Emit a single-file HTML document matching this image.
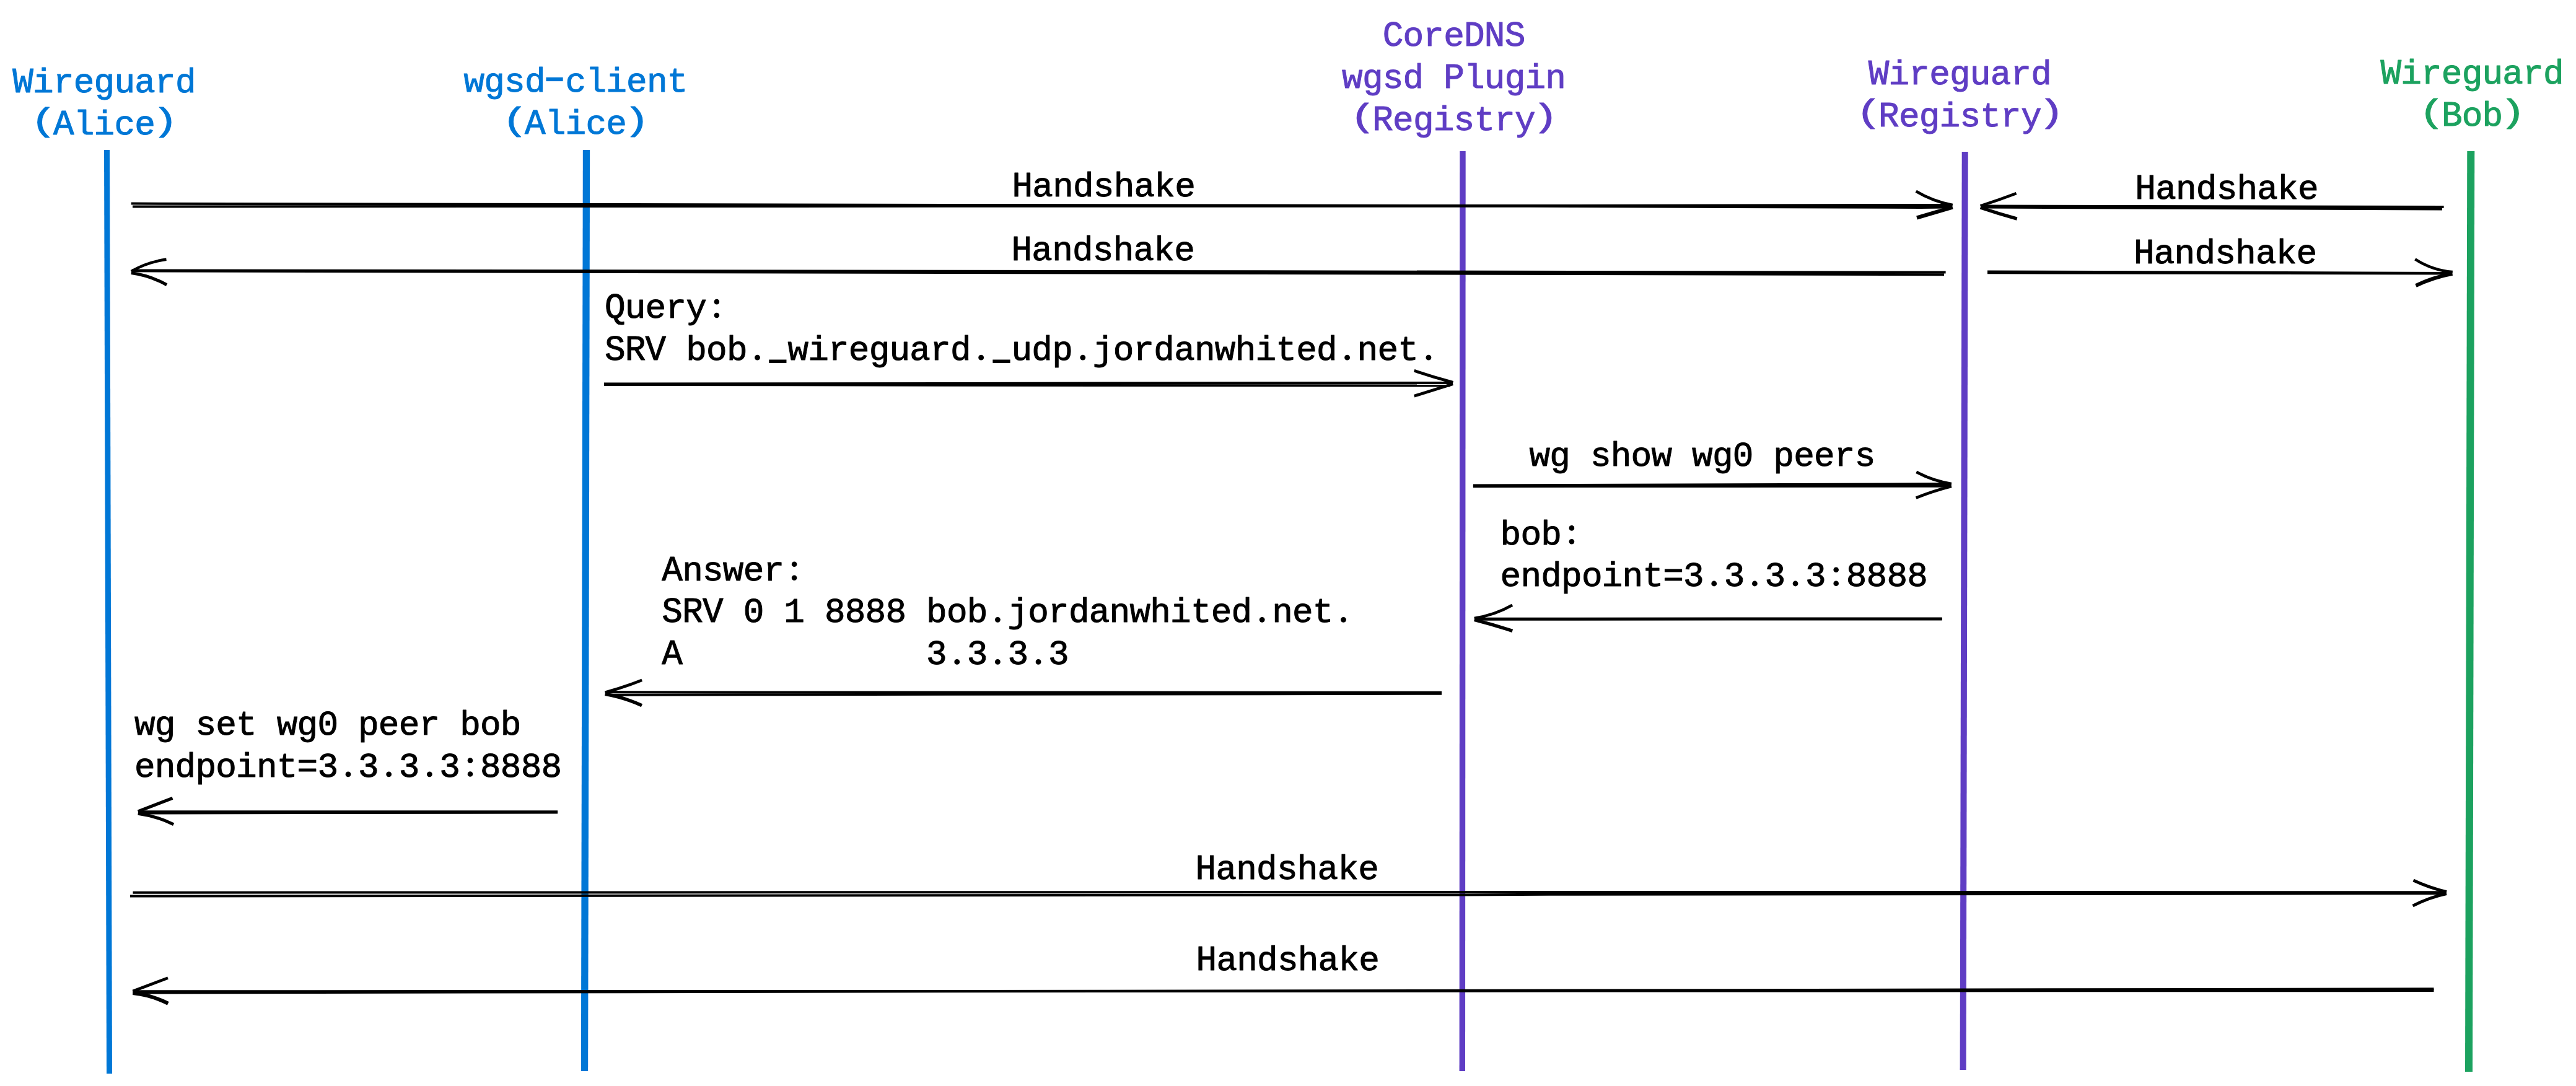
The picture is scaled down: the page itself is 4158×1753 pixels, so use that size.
<!DOCTYPE html>
<html><head><meta charset="utf-8"><style>
html,body{margin:0;padding:0;background:#fff;}
svg{display:block;}
text{font-family:"Liberation Mono",monospace;font-size:56px;white-space:pre;stroke-width:1px;paint-order:stroke;stroke-linejoin:round;}
</style></head><body>
<svg width="4158" height="1753" viewBox="0 0 4158 1753">
<rect width="4158" height="1753" fill="#fff"/>
<g stroke-linecap="butt" stroke-linejoin="round">
<path d="M172.5 242L176.5 1733" stroke="#0077d6" stroke-width="9" fill="none"/>
<path d="M946.5 242L943.5 1729" stroke="#0077d6" stroke-width="11.3" fill="none"/>
<path d="M2361 244L2360.3 1729" stroke="#5f3dc4" stroke-width="9.4" fill="none"/>
<path d="M3171.7 245L3168.6 1727" stroke="#5f3dc4" stroke-width="10" fill="none"/>
<path d="M3988.3 244L3985 1730" stroke="#1ca25f" stroke-width="12" fill="none"/>
</g>
<g stroke="#000" stroke-width="4" fill="none" stroke-linecap="butt" stroke-linejoin="round">
<path d="M211.8 328.6L500 329.2L1570 331.1L2470 332.1L3100 330.9L3151 331"/>
<path d="M214 333.6L500 333.2L1570 332.8L2470 332.8L3100 334.9L3148 334.6"/>
<path d="M3140.6 439.5L213 436.5"/>
<path d="M3138 443.2L213 437.3"/>
<path d="M3944.6 334L3197 332.5"/>
<path d="M3942 337.6L3197 334.5"/>
<path d="M3208 438.5L3958 440.9"/>
<path d="M3208 440.3L3955 441.5"/>
<path d="M975 619.6L2345 617.9"/>
<path d="M975 621L2340.7 622.6"/>
<path d="M2377.9 783.4L3149.5 781.1"/>
<path d="M2377.9 785.2L3149.5 784.7"/>
<path d="M3134.7 998.4L2380 998.8"/>
<path d="M3134.7 999.4L2380 999.8"/>
<path d="M2327 1117.8L1205 1117.4L977 1117.1"/>
<path d="M2327 1119.8L1205 1121.3L980 1121.8"/>
<path d="M900.1 1310.2L223 1310.2"/>
<path d="M900.1 1311.4L223 1312.6"/>
<path d="M214.5 1440.7L2360 1440L3949 1440.2"/>
<path d="M209.9 1446.5L2360 1444.4L2500 1443.8L3949 1442.2"/>
<path d="M3928.5 1596.3L214.5 1602.5"/>
<path d="M3928.5 1599.1L214.5 1600.3"/>
<path d="M3092.7 308.8Q3120.21 325.33 3151.8 331" stroke-width="4.5"/>
<path d="M3094 351.5Q3122.9 343 3151.8 334.5" stroke-width="6"/>
<path d="M268.5 418.8Q238.23 422.72 211.8 438" stroke-width="4.5"/>
<path d="M269.1 459.7Q242.22 444.84 211.8 440.6" stroke-width="5"/>
<path d="M3254.6 312.2Q3225.93 323.19 3196.6 332.3" stroke-width="4.5"/>
<path d="M3255.7 353.1Q3225.86 345.01 3196.6 335" stroke-width="5.5"/>
<path d="M3898.3 418.3Q3925.96 436.22 3958.8 439" stroke-width="4.5"/>
<path d="M3899.5 461Q3927.76 447.6 3958.5 441.8" stroke-width="6"/>
<path d="M2282.7 598.3Q2313.76 608.76 2345.4 617.3" stroke-width="4.7"/>
<path d="M2282.7 639.2Q2313.95 629.5 2345.2 619.8" stroke-width="4.7"/>
<path d="M3093.3 761.9Q3120 776.19 3149.9 781" stroke-width="4.7"/>
<path d="M3092.7 803.6Q3120.68 792.4 3149.9 785" stroke-width="4.7"/>
<path d="M2441.1 976.8Q2412.36 993.07 2379.7 998" stroke-width="4.7"/>
<path d="M2441.3 1018.3Q2410.78 1008.34 2379.7 1000.3" stroke-width="5.5"/>
<path d="M1036.2 1097.9Q1006.91 1109.37 976.6 1117.8" stroke-width="4.7"/>
<path d="M1036 1138.8Q1007.49 1125.73 976.6 1120.3" stroke-width="5.5"/>
<path d="M278.5 1288.3Q250.6 1299.05 222.7 1309.8" stroke-width="5"/>
<path d="M280.2 1330.8Q252.91 1317.22 222.7 1313.2" stroke-width="5"/>
<path d="M3895.5 1421Q3921.32 1433.13 3949.1 1439.6" stroke-width="4.7"/>
<path d="M3894.6 1462.2Q3920.5 1448.64 3949.1 1442.6" stroke-width="4.7"/>
<path d="M271 1578.6Q242.7 1589.3 214.4 1600" stroke-width="4.7"/>
<path d="M271.3 1619.7Q244.37 1606.17 214.4 1603" stroke-width="6"/>
</g>
<g>
<text fill="#0077d6" stroke="#0077d6"><tspan x="53.11 85.94 118.77 151.6 184.43 217.26 250.09 282.92" y="148.9">ireguard</tspan></text>
<text fill="#0077d6" stroke="#0077d6"><tspan x="118.77 151.6 184.43 217.26" y="217">lice</tspan></text>
<text fill="#0077d6" stroke="#0077d6"><tspan x="748.45 781.28 814.11 846.94 912.6 945.43 978.26 1011.09 1043.92 1076.75" y="147.9">wgsdclient</tspan></text>
<text fill="#0077d6" stroke="#0077d6"><tspan x="879.77 912.6 945.43 978.26" y="215.9">lice</tspan></text>
<text fill="#5f3dc4" stroke="#5f3dc4"><tspan x="2264.54 2297.37 2330.2" y="74.1">ore</tspan></text>
<text fill="#5f3dc4" stroke="#5f3dc4"><tspan x="2166.05 2198.88 2231.71 2264.54 2363.03 2395.86 2428.69 2461.52 2494.35" y="141.8">wgsdlugin</tspan></text>
<text fill="#5f3dc4" stroke="#5f3dc4"><tspan x="2248.12 2280.95 2313.78 2346.61 2379.44 2412.27 2445.1" y="209.9">egistry</tspan></text>
<text fill="#5f3dc4" stroke="#5f3dc4"><tspan x="3048.51 3081.34 3114.17 3147 3179.83 3212.66 3245.49 3278.32" y="136">ireguard</tspan></text>
<text fill="#5f3dc4" stroke="#5f3dc4"><tspan x="3064.92 3097.75 3130.58 3163.41 3196.24 3229.07 3261.9" y="203.5">egistry</tspan></text>
<text fill="#1ca25f" stroke="#1ca25f"><tspan x="3875.21 3908.04 3940.87 3973.7 4006.53 4039.36 4072.19 4105.02" y="134.5">ireguard</tspan></text>
<text fill="#1ca25f" stroke="#1ca25f"><tspan x="3973.7 4006.53" y="202.9">ob</tspan></text>
<text fill="#000000" stroke="#000000"><tspan x="1666.34 1699.17 1732 1764.83 1797.66 1830.49 1863.32 1896.15" y="317.2">andshake</tspan></text>
<text fill="#000000" stroke="#000000"><tspan x="1665.34 1698.17 1731 1763.83 1796.66 1829.49 1862.32 1895.15" y="419.8">andshake</tspan></text>
<text fill="#000000" stroke="#000000"><tspan x="3479.14 3511.97 3544.8 3577.63 3610.46 3643.29 3676.12 3708.95" y="320.9">andshake</tspan></text>
<text fill="#000000" stroke="#000000"><tspan x="3476.74 3509.57 3542.4 3575.23 3608.06 3640.89 3673.72 3706.55" y="424.6">andshake</tspan></text>
<text fill="#000000" stroke="#000000"><tspan x="1008.74 1041.57 1074.4 1107.23" y="513.2">uery</tspan></text>
<text fill="#000000" stroke="#000000"><tspan x="1107.23 1140.06 1172.89 1271.38 1304.21 1337.04 1369.87 1402.7 1435.53 1468.36 1501.19 1534.02 1632.51 1665.34 1698.17 1763.83 1796.66 1829.49 1862.32 1895.15 1927.98 1960.81 1993.64 2026.47 2059.3 2092.13 2124.96 2190.62 2223.45 2256.28" y="581.1">bobwireguardudpjordanwhitednet</tspan></text>
<text fill="#000000" stroke="#000000"><tspan x="2468.41 2501.24 2566.9 2599.73 2632.56 2665.39 2731.05 2763.88 2796.71 2862.37 2895.2 2928.03 2960.86 2993.69" y="751.7">wgshowwg0peers</tspan></text>
<text fill="#000000" stroke="#000000"><tspan x="2421.61 2454.44 2487.27" y="878.5">bob</tspan></text>
<text fill="#000000" stroke="#000000"><tspan x="2421.61 2454.44 2487.27 2520.1 2552.93 2585.76 2618.59 2651.42 2684.25 2717.08 2782.74 2848.4 2914.06 2979.72 3012.55 3045.38 3078.21" y="945.9">endpoint=33338888</tspan></text>
<text fill="#000000" stroke="#000000"><tspan x="1101.14 1133.97 1166.8 1199.63 1232.46" y="936.9">nswer</tspan></text>
<text fill="#000000" stroke="#000000"><tspan x="1199.63 1265.29 1330.95 1363.78 1396.61 1429.44 1495.1 1527.93 1560.76 1626.42 1659.25 1692.08 1724.91 1757.74 1790.57 1823.4 1856.23 1889.06 1921.89 1954.72 1987.55 2053.21 2086.04 2118.87" y="1004.2">018888bobjordanwhitednet</tspan></text>
<text fill="#000000" stroke="#000000"></text>
<text fill="#000000" stroke="#000000"><tspan x="1495.1 1560.76 1626.42 1692.08" y="1072.3">3333</tspan></text>
<text fill="#000000" stroke="#000000"><tspan x="216.91 249.74 315.4 348.23 381.06 446.72 479.55 512.38 578.04 610.87 643.7 676.53 742.19 775.02 807.85" y="1186.3">wgsetwg0peerbob</tspan></text>
<text fill="#000000" stroke="#000000"><tspan x="216.91 249.74 282.57 315.4 348.23 381.06 413.89 446.72 479.55 512.38 578.04 643.7 709.36 775.02 807.85 840.68 873.51" y="1253.7">endpoint=33338888</tspan></text>
<text fill="#000000" stroke="#000000"><tspan x="1962.44 1995.27 2028.1 2060.93 2093.76 2126.59 2159.42 2192.25" y="1419.2">andshake</tspan></text>
<text fill="#000000" stroke="#000000"><tspan x="1963.44 1996.27 2029.1 2061.93 2094.76 2127.59 2160.42 2193.25" y="1566.4">andshake</tspan></text>
<text fill="#0077d6" stroke="#0077d6" x="-16.8" y="0" transform="translate(37.08 148.9) scale(1 1.036)">W</text>
<text fill="#0077d6" stroke="#0077d6" x="-16.8" y="0" transform="translate(70.21 210.7) scale(1.26 0.927)">(</text>
<text fill="#0077d6" stroke="#0077d6" x="-16.8" y="0" transform="translate(102.74 217) scale(1 1.036)">A</text>
<text fill="#0077d6" stroke="#0077d6" x="-16.8" y="0" transform="translate(266.59 210.7) scale(1.26 0.927)">)</text>
<rect x="881.47" y="124.9" width="27.2" height="6.2" fill="#0077d6"/>
<text fill="#0077d6" stroke="#0077d6" x="-16.8" y="0" transform="translate(831.21 209.6) scale(1.26 0.927)">(</text>
<text fill="#0077d6" stroke="#0077d6" x="-16.8" y="0" transform="translate(863.74 215.9) scale(1 1.036)">A</text>
<text fill="#0077d6" stroke="#0077d6" x="-16.8" y="0" transform="translate(1027.59 209.6) scale(1.26 0.927)">)</text>
<text fill="#5f3dc4" stroke="#5f3dc4" x="-16.8" y="0" transform="translate(2248.51 74.1) scale(1 1.036)">C</text>
<text fill="#5f3dc4" stroke="#5f3dc4" x="-16.8" y="0" transform="translate(2379.83 74.1) scale(1 1.036)">D</text>
<text fill="#5f3dc4" stroke="#5f3dc4" x="-16.8" y="0" transform="translate(2412.66 74.1) scale(1 1.036)">N</text>
<text fill="#5f3dc4" stroke="#5f3dc4" x="-16.8" y="0" transform="translate(2445.49 74.1) scale(1 1.036)">S</text>
<text fill="#5f3dc4" stroke="#5f3dc4" x="-16.8" y="0" transform="translate(2347 141.8) scale(1 1.036)">P</text>
<text fill="#5f3dc4" stroke="#5f3dc4" x="-16.8" y="0" transform="translate(2199.57 203.6) scale(1.26 0.927)">(</text>
<text fill="#5f3dc4" stroke="#5f3dc4" x="-16.8" y="0" transform="translate(2232.09 209.9) scale(1 1.036)">R</text>
<text fill="#5f3dc4" stroke="#5f3dc4" x="-16.8" y="0" transform="translate(2494.43 203.6) scale(1.26 0.927)">)</text>
<text fill="#5f3dc4" stroke="#5f3dc4" x="-16.8" y="0" transform="translate(3032.48 136) scale(1 1.036)">W</text>
<text fill="#5f3dc4" stroke="#5f3dc4" x="-16.8" y="0" transform="translate(3016.37 197.2) scale(1.26 0.927)">(</text>
<text fill="#5f3dc4" stroke="#5f3dc4" x="-16.8" y="0" transform="translate(3048.89 203.5) scale(1 1.036)">R</text>
<text fill="#5f3dc4" stroke="#5f3dc4" x="-16.8" y="0" transform="translate(3311.23 197.2) scale(1.26 0.927)">)</text>
<text fill="#1ca25f" stroke="#1ca25f" x="-16.8" y="0" transform="translate(3859.18 134.5) scale(1 1.036)">W</text>
<text fill="#1ca25f" stroke="#1ca25f" x="-16.8" y="0" transform="translate(3925.14 196.6) scale(1.26 0.927)">(</text>
<text fill="#1ca25f" stroke="#1ca25f" x="-16.8" y="0" transform="translate(3957.67 202.9) scale(1 1.036)">B</text>
<text fill="#1ca25f" stroke="#1ca25f" x="-16.8" y="0" transform="translate(4055.86 196.6) scale(1.26 0.927)">)</text>
<text fill="#000000" stroke="#000000" x="-16.8" y="0" transform="translate(1650.32 317.2) scale(1 1.036)">H</text>
<text fill="#000000" stroke="#000000" x="-16.8" y="0" transform="translate(1649.32 419.8) scale(1 1.036)">H</text>
<text fill="#000000" stroke="#000000" x="-16.8" y="0" transform="translate(3463.11 320.9) scale(1 1.036)">H</text>
<text fill="#000000" stroke="#000000" x="-16.8" y="0" transform="translate(3460.72 424.6) scale(1 1.036)">H</text>
<text fill="#000000" stroke="#000000" x="-16.8" y="0" transform="translate(992.71 513.2) scale(1 1.036)">Q</text>
<circle cx="1156.86" cy="509" r="4.3" fill="#000000"/>
<circle cx="1156.86" cy="487.1" r="4.3" fill="#000000"/>
<text fill="#000000" stroke="#000000" x="-16.8" y="0" transform="translate(992.71 581.1) scale(1 1.036)">S</text>
<text fill="#000000" stroke="#000000" x="-16.8" y="0" transform="translate(1025.55 581.1) scale(1 1.036)">R</text>
<text fill="#000000" stroke="#000000" x="-16.8" y="0" transform="translate(1058.38 581.1) scale(1 1.036)">V</text>
<circle cx="1222.52" cy="577.2" r="4.4" fill="#000000"/>
<rect x="1241.26" y="580.5" width="28.2" height="5.4" fill="#000000"/>
<circle cx="1583.65" cy="577.2" r="4.4" fill="#000000"/>
<rect x="1602.38" y="580.5" width="28.2" height="5.4" fill="#000000"/>
<circle cx="1747.8" cy="577.2" r="4.4" fill="#000000"/>
<circle cx="2174.59" cy="577.2" r="4.4" fill="#000000"/>
<circle cx="2305.91" cy="577.2" r="4.4" fill="#000000"/>
<circle cx="2536.9" cy="874.3" r="4.3" fill="#000000"/>
<circle cx="2536.9" cy="852.4" r="4.3" fill="#000000"/>
<circle cx="2766.72" cy="942" r="4.4" fill="#000000"/>
<circle cx="2832.38" cy="942" r="4.4" fill="#000000"/>
<circle cx="2898.03" cy="942" r="4.4" fill="#000000"/>
<circle cx="2963.69" cy="941.7" r="4.3" fill="#000000"/>
<circle cx="2963.69" cy="919.8" r="4.3" fill="#000000"/>
<text fill="#000000" stroke="#000000" x="-16.8" y="0" transform="translate(1085.12 936.9) scale(1 1.036)">A</text>
<circle cx="1282.1" cy="932.7" r="4.3" fill="#000000"/>
<circle cx="1282.1" cy="910.8" r="4.3" fill="#000000"/>
<text fill="#000000" stroke="#000000" x="-16.8" y="0" transform="translate(1085.12 1004.2) scale(1 1.036)">S</text>
<text fill="#000000" stroke="#000000" x="-16.8" y="0" transform="translate(1117.94 1004.2) scale(1 1.036)">R</text>
<text fill="#000000" stroke="#000000" x="-16.8" y="0" transform="translate(1150.78 1004.2) scale(1 1.036)">V</text>
<circle cx="1610.39" cy="1000.3" r="4.4" fill="#000000"/>
<circle cx="2037.18" cy="1000.3" r="4.4" fill="#000000"/>
<circle cx="2168.51" cy="1000.3" r="4.4" fill="#000000"/>
<text fill="#000000" stroke="#000000" x="-16.8" y="0" transform="translate(1085.12 1072.3) scale(1 1.036)">A</text>
<circle cx="1544.73" cy="1068.4" r="4.4" fill="#000000"/>
<circle cx="1610.39" cy="1068.4" r="4.4" fill="#000000"/>
<circle cx="1676.05" cy="1068.4" r="4.4" fill="#000000"/>
<circle cx="562.01" cy="1249.8" r="4.4" fill="#000000"/>
<circle cx="627.67" cy="1249.8" r="4.4" fill="#000000"/>
<circle cx="693.34" cy="1249.8" r="4.4" fill="#000000"/>
<circle cx="758.99" cy="1249.5" r="4.3" fill="#000000"/>
<circle cx="758.99" cy="1227.6" r="4.3" fill="#000000"/>
<text fill="#000000" stroke="#000000" x="-16.8" y="0" transform="translate(1946.41 1419.2) scale(1 1.036)">H</text>
<text fill="#000000" stroke="#000000" x="-16.8" y="0" transform="translate(1947.41 1566.4) scale(1 1.036)">H</text>
</g>
</svg>
</body></html>
